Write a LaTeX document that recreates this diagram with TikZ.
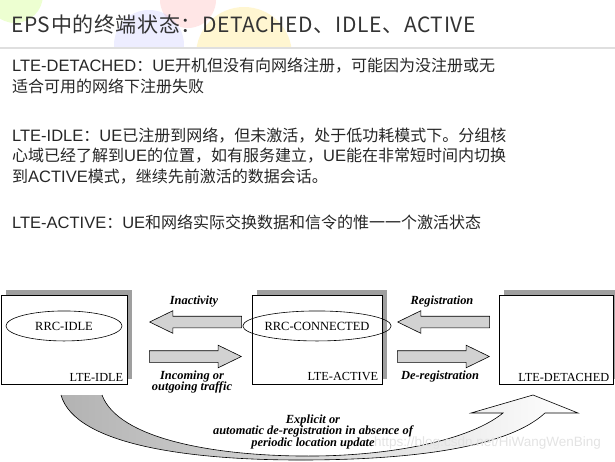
\documentclass[tikz,border=0pt]{standalone}
\usepackage{fontspec}
\setmainfont{Liberation Serif}
\newfontfamily\cjk{Noto Sans CJK SC}
\newfontfamily\cjktitre[LetterSpace=3]{Noto Sans CJK SC}
\newfontfamily\arial{Liberation Sans}
\usetikzlibrary{positioning,shapes.geometric,shapes.arrows}

\newcommand{\zh}[1]{{\cjk\fontsize{16}{20.5}\selectfont #1}}

\tikzset{
  etat/.style={draw, line width=0.7pt, fill=white, minimum height=89, inner sep=0,
    preaction={draw=none, fill=gray!75, transform canvas={xshift=5pt, yshift=5pt}}},
  rrc/.style={draw, ellipse, line width=0.6pt, minimum width=116, minimum height=30,
    inner sep=0, font=\fontsize{12.5}{13}\selectfont},
  nometat/.style={anchor=south east, inner sep=0, font=\fontsize{12.3}{13}\selectfont},
  fleche/.style={draw, single arrow, fill=gray!35, line width=0.6pt, minimum height=92,
    minimum width=22, single arrow head extend=5.5, single arrow tip angle=52,
    inner xsep=0, inner ysep=5.5pt},
  evt/.style={align=center, inner sep=0, font=\bfseries\itshape\fontsize{12.4}{11.5}\selectfont},
  texte/.style={anchor=west, inner sep=0, align=left, text=black!85,
    font=\arial\fontsize{16.5}{20.5}\selectfont},
}

\begin{document}
\begin{tikzpicture}[x=1pt, y=-1pt]
    \useasboundingbox (0,0) rectangle (615,461);

    % Bulles du fond, derriere le titre
    \begin{scope}
      \clip (0,0) rectangle (615,47);
      \fill[green!40!yellow, opacity=0.18] (15,-5) circle (28);
      \fill[red!60, opacity=0.16] (188,0) circle (28);
      \fill[blue!40, opacity=0.18] (149,45) circle (35);
      \fill[orange!40!yellow, opacity=0.18] (244,55) circle (48);
    \end{scope}

    % Titre et filet
    \node[anchor=west, inner sep=0, text=black!80, font=\cjktitre\fontsize{21}{21}\selectfont]
      (titre) at (11,24) {EPS中的终端状态：DETACHED、IDLE、ACTIVE};
    \draw[gray!25, line width=1.5pt] (0,48) -- (615,48);

    % Les trois definitions
    \node[texte] (defdetached) at (12,76)
      {LTE-DETACHED\zh{：}UE\zh{开机但没有向网络注册，可能因为没注册或无}\\
       \zh{适合可用的网络下注册失败}};
    \node[texte] (defidle) at (12,156)
      {LTE-IDLE\zh{：}UE\zh{已注册到网络，但未激活，处于低功耗模式下。分组核}\\
       \zh{心域已经了解到}UE\zh{的位置，如有服务建立，}UE\zh{能在非常短时间内切换}\\
       \zh{到}ACTIVE\zh{模式，继续先前激活的数据会话。}};
    \node[texte] (defactive) at (12,222)
      {LTE-ACTIVE\zh{：}UE\zh{和网络实际交换数据和信令的惟一一个激活状态}};

    % Fleche courbe du bas
    \draw[line width=0.6pt, left color=gray!60, right color=white]
      (102,395) .. controls (118,438) and (210,455) .. (300,456)
      .. controls (390,457) and (470,440) .. (503,413)
      -- (471,413) -- (533,395) -- (578,413) -- (545,413)
      .. controls (505,450) and (400,460) .. (300,460)
      .. controls (190,460) and (75,445) .. (61,395);
    \node[evt] (explicit) at (313,432)
      {Explicit or\\ automatic de-registration in absence of\\ periodic location update};

    % Les trois etats
    \node[etat, minimum width=126] (idle) at (64,339.5) {};
    \node[etat, minimum width=130] (active) at (317,339.5) {};
    \node[etat, minimum width=114] (detached) at (556,339.5) {};

    \node[rrc, below=16pt of idle.north] (rrcidle) {RRC-IDLE};
    \node[rrc, below=16pt of active.north] (rrcconn) {RRC-CONNECTED};

    \node[nometat] (idlelbl) at ([shift={(-4,-3)}]idle.south east) {LTE-IDLE};
    \node[nometat] (activelbl) at ([shift={(-4,-3)}]active.south east) {LTE-ACTIVE};
    \node[nometat] (detachedlbl) at ([shift={(-4,-3)}]detached.south east) {LTE-DETACHED};

    % Fleches entre IDLE et ACTIVE
    \node[fleche, shape border rotate=180, anchor=tip] (inact) at (149,322) {};
    \node[fleche, anchor=tail] (traffic) at (149,356.5) {};
    \node[evt] at (194,302) {Inactivity};
    \node[evt] at (192,382) {Incoming or\\ outgoing traffic};

    % Fleches entre ACTIVE et DETACHED
    \node[fleche, shape border rotate=180, anchor=tip] (reg) at (397,322) {};
    \node[fleche, anchor=tail] (dereg) at (397,356.5) {};
    \node[evt] at (442,302) {Registration};
    \node[evt] at (440,377) {De-registration};

    % Filigrane
    \node[anchor=west, inner sep=0, text=gray!22, font=\arial\fontsize{13.5}{14}\selectfont]
      (filigrane) at (374,443) {https://blog.csdn.net/HiWangWenBing};
\end{tikzpicture}
\end{document}
